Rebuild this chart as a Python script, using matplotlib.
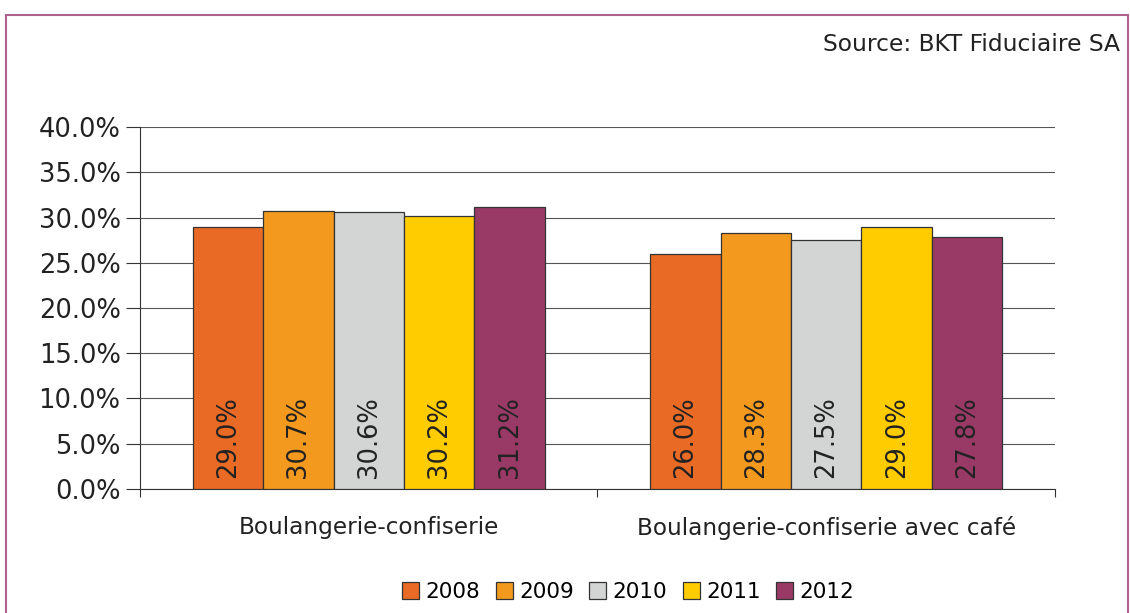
import matplotlib.pyplot as plt
import numpy as np

plt.rcParams.update({
    "font.family": "DejaVu Sans",
    "font.size": 16,
})

categories = ["Boulangerie-confiserie", "Boulangerie-confiserie avec café"]
years = ["2008", "2009", "2010", "2011", "2012"]
values = {
    "2008": [29.0, 26.0],
    "2009": [30.7, 28.3],
    "2010": [30.6, 27.5],
    "2011": [30.2, 29.0],
    "2012": [31.2, 27.8],
}
colors = ["#E86A25", "#F39A1E", "#D3D4D4", "#FFCC00", "#993966"]

fig = plt.figure(figsize=(11.3, 6.13), dpi=100)
ax = fig.add_axes([0.1239, 0.2023, 0.8097, 0.5905])

# border round the whole chart
fig.patches.append(plt.Rectangle((0.0053, -0.05), 0.9929, 1.0255, transform=fig.transFigure,
                                 fill=False, edgecolor="#b0628f", linewidth=1.5))

x = np.arange(len(categories))
w = 0.154
for i, yr in enumerate(years):
    pos = x + (i - 2) * w
    bars = ax.bar(pos, values[yr], w, color=colors[i], edgecolor="#333333",
                  linewidth=0.9, label=yr, zorder=3)
    for b, v in zip(bars, values[yr]):
        ax.text(b.get_x() + b.get_width() / 2, 1.2, f"{v:.1f}%", rotation=90,
                ha="center", va="bottom", fontsize=18.5, color="#222222", zorder=4)

ax.set_xlim(-0.5, 1.5)
ax.set_ylim(0, 40)
ax.set_yticks(np.arange(0, 41, 5))
ax.set_yticklabels([f"{t:.1f}%" for t in np.arange(0, 41, 5)], fontsize=18.5, color="#222222")
ax.yaxis.grid(True, color="#555555", linewidth=0.8, zorder=0)
ax.set_xticks([-0.5, 0.5, 1.5])
ax.set_xticklabels([])
ax.tick_params(axis="x", length=6, color="#333333")
ax.tick_params(axis="y", length=10, color="#333333", pad=4)
for i, c in enumerate(categories):
    ax.text(x[i], -4.3, c, ha="center", va="center", fontsize=16.7, color="#222222")

for s in ["top", "right"]:
    ax.spines[s].set_visible(False)
ax.spines["left"].set_color("#333333")
ax.spines["bottom"].set_color("#333333")

fig.text(0.991, 0.928, "Source: BKT Fiduciaire SA", ha="right", va="center",
         fontsize=16.8, color="#222222")

fig.legend(loc="center", bbox_to_anchor=(0.556, 0.034), ncol=5, frameon=False,
           fontsize=15.5, handlelength=0.8, handleheight=0.8, handletextpad=0.3,
           columnspacing=0.7)

plt.savefig("out.png", dpi=100)
plt.close()
